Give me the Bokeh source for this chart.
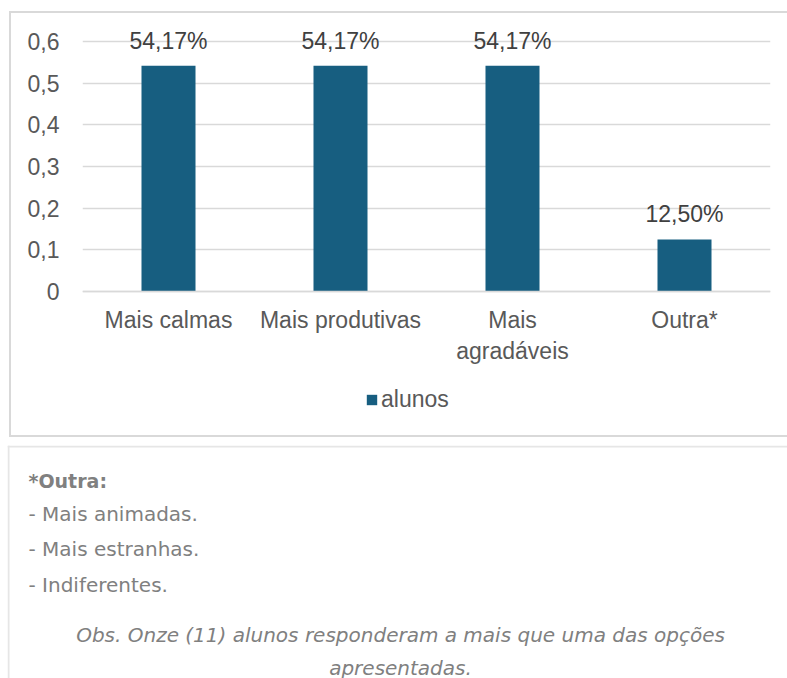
from bokeh.plotting import figure
from bokeh.models import (ColumnDataSource, Range1d, FixedTicker,
                          LabelSet, Legend, LegendItem, Label, Span)
from bokeh.layouts import column
from bokeh.core.properties import value
from bokeh.embed import file_html
from bokeh.resources import INLINE

# ---------------- data ----------------
categories = ["Mais calmas", "Mais produtivas", "Mais agradáveis", "Outra*"]
category_labels = ["Mais calmas", "Mais produtivas", "Mais\nagradáveis", "Outra*"]
values = [0.5417, 0.5417, 0.5417, 0.125]
value_labels = ["54,17%", "54,17%", "54,17%", "12,50%"]
y_ticks = [0, 0.1, 0.2, 0.3, 0.4, 0.5, 0.6]
y_tick_labels = ["0", "0,1", "0,2", "0,3", "0,4", "0,5", "0,6"]
series_name = "alunos"
note_title = "*Outra:"
note_items = ["- Mais animadas.", "- Mais estranhas.", "- Indiferentes."]
note_obs = ["Obs. Onze (11) alunos responderam a mais que uma das opções",
            "apresentadas."]

BAR = "#175E80"
GRID = "#D9D9D9"
TXT = "#595959"
FONT = "Liberation Sans"

x_pos = [i + 0.5 for i in range(len(categories))]

# ---------------- chart ----------------
W1, H1 = 778, 426
p = figure(x_range=Range1d(0, len(categories)), y_range=Range1d(-0.3336, 0.6648),
           width=W1, height=H1, title=None,
           output_backend="svg", toolbar_location=None,
           min_border_left=73, min_border_right=17,
           min_border_top=3, min_border_bottom=7,
           margin=(11, 0, 0, 9))
p.background_fill_color = None
p.border_fill_color = None
p.outline_line_color = None
p.styles = {"box-shadow": "inset 2px 0 0 #D9D9D9, inset 0 2px 0 #D9D9D9, inset 0 -2px 0 #D9D9D9"}

src = ColumnDataSource(dict(x=x_pos, cat=categories, val=values, lab=value_labels))
r = p.vbar(x="x", top="val", width=0.314, source=src,
           fill_color=BAR, line_color=None)

p.add_layout(LabelSet(x="x", y="val", text="lab", source=src,
                      text_align="center", text_baseline="alphabetic",
                      y_offset=17, text_font=value(FONT),
                      text_font_size=value("23px"), text_color=value("#404040")))

yticker = FixedTicker(ticks=y_ticks)
ya = p.yaxis[0]
ya.ticker = yticker
ya.major_label_overrides = dict(zip(y_ticks, y_tick_labels))
ya.axis_line_color = None
ya.major_tick_line_color = None
ya.minor_tick_line_color = None
ya.major_tick_out = 0
ya.major_tick_in = 0
ya.major_label_standoff = 23
ya.major_label_text_font = FONT
ya.major_label_text_font_size = "23px"
ya.major_label_text_color = TXT

xa = p.xaxis[0]
xa.fixed_location = 0
xa.ticker = FixedTicker(ticks=x_pos)
xa.major_label_overrides = dict(zip(x_pos, category_labels))
xa.axis_line_color = GRID
xa.axis_line_width = 1.5
xa.major_tick_line_color = None
xa.minor_tick_line_color = None
xa.major_tick_out = 0
xa.major_tick_in = 0
xa.major_label_standoff = 15
xa.major_label_text_font = FONT
xa.major_label_text_font_size = "23px"
xa.major_label_text_color = TXT

p.xgrid.grid_line_color = None
p.ygrid.ticker = yticker
p.ygrid.grid_line_color = GRID
p.ygrid.grid_line_width = 1.5

legend = Legend(items=[LegendItem(label=series_name, renderers=[r])],
                location=(283, 17), orientation="horizontal",
                padding=0, margin=0, spacing=0,
                glyph_width=13, glyph_height=13, label_standoff=3,
                label_text_font=FONT, label_text_font_size="23px",
                label_text_color=TXT, border_line_color=None,
                background_fill_color=None)
p.add_layout(legend)

# ---------------- note panel ----------------
W2, H2 = 780, 233
q = figure(width=W2, height=H2, x_range=Range1d(0, W2), y_range=Range1d(H2, 0),
           min_border=0, x_axis_type=None, y_axis_type=None, title=None,
           output_backend="svg", toolbar_location=None, margin=(8, 0, 0, 7))
q.outline_line_color = None
q.background_fill_color = "white"
q.border_fill_color = "white"
for fig in (p, q):
    if "frame_align" in fig.properties():
        fig.frame_align = False
q.add_layout(Span(location=1, dimension="width", line_color="#E6E6E6", line_width=2))
q.add_layout(Span(location=1, dimension="height", line_color="#E6E6E6", line_width=2))

NOTE = "#808080"
NFONT = "DejaVu Sans"
q.add_layout(Label(x=21, y=35, text=note_title, text_font=NFONT, text_font_size="19px",
                   text_font_style="bold", text_color=NOTE, text_baseline="alphabetic"))
for i, t in enumerate(note_items):
    q.add_layout(Label(x=21, y=68 + 35.5 * i, text=t, text_font=NFONT, text_font_size="20px",
                       text_color=NOTE, text_baseline="alphabetic"))
for i, t in enumerate(note_obs):
    q.add_layout(Label(x=393, y=189 + 33 * i, text=t, text_font=NFONT, text_font_size="20px",
                       text_font_style="italic", text_color=NOTE,
                       text_align="center", text_baseline="alphabetic"))

layout = column(p, q, spacing=0)
open("out.html", "w").write(file_html(layout, INLINE))
